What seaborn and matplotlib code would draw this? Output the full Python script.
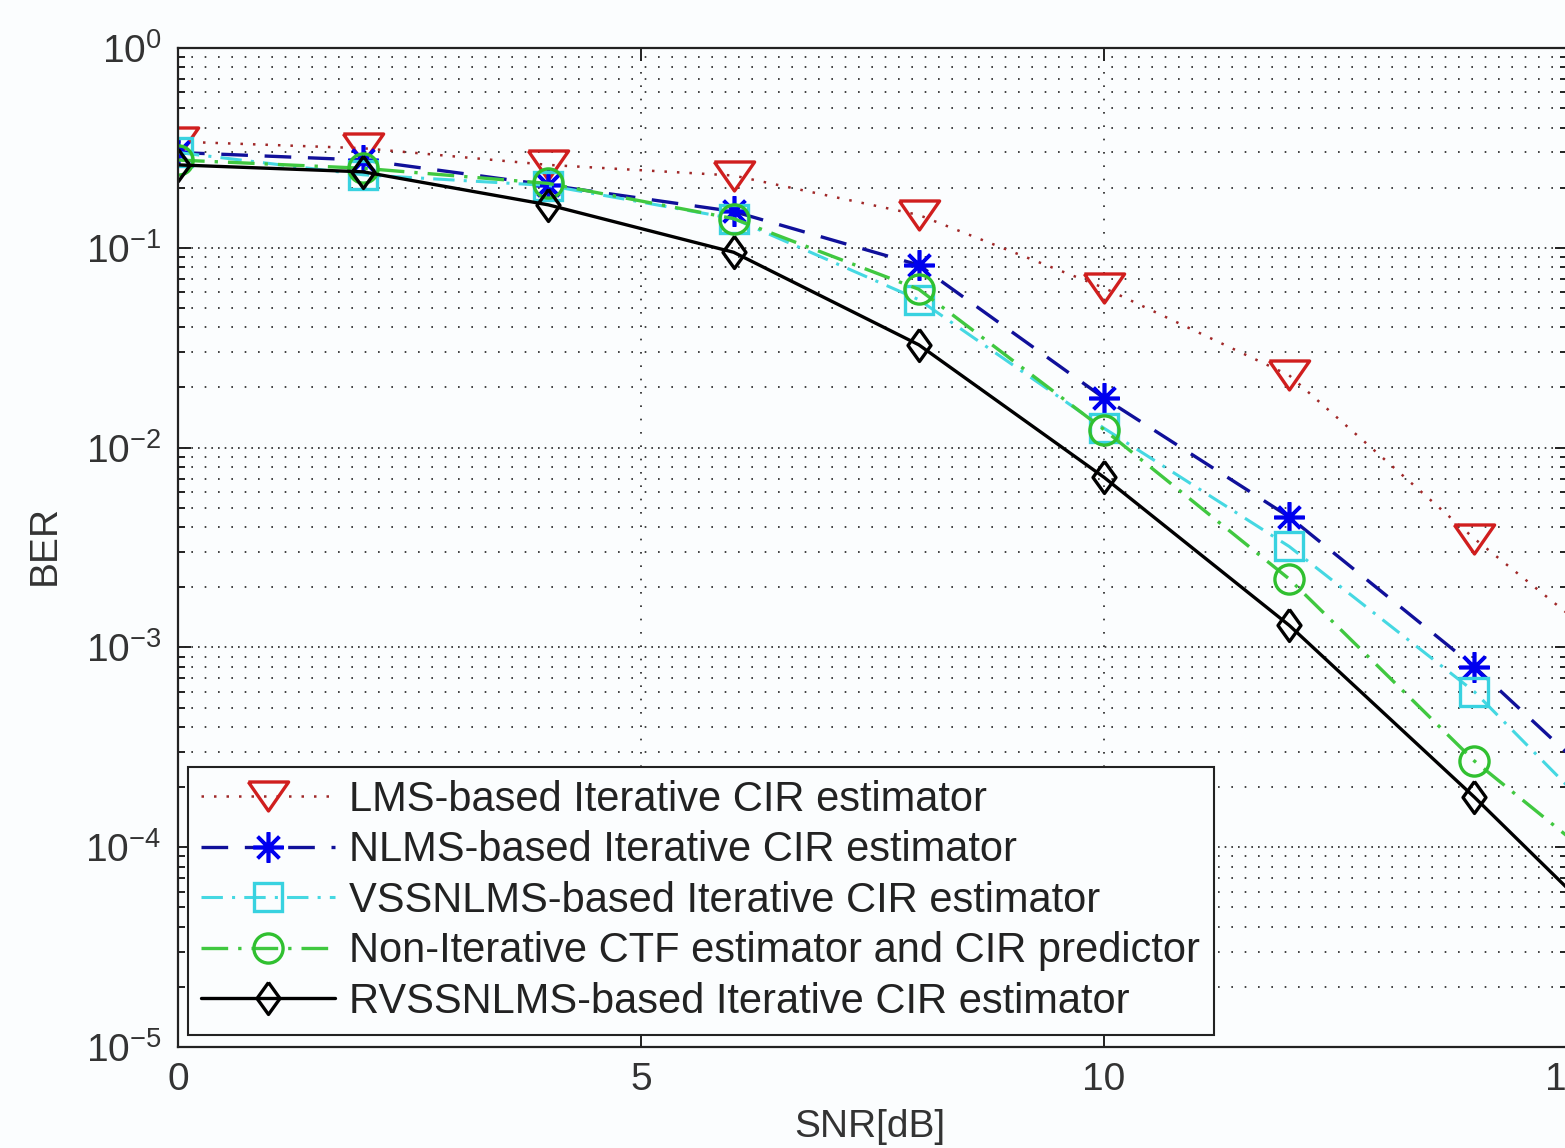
import numpy as np
import matplotlib
matplotlib.use("Agg")
import matplotlib.pyplot as plt
import matplotlib.ticker as mticker
import seaborn as sns

# data (BER vs SNR)
snr = [0, 2, 4, 6, 8, 10, 12, 14, 16]
ber_lms = [0.34, 0.315, 0.26, 0.23, 0.146, 0.063, 0.023, 0.0035, 6.3e-4]
ber_nlms = [0.30, 0.275, 0.206, 0.152, 0.082, 0.0177, 0.0045, 8.0e-4, 1.1e-4]
ber_vss = [0.30, 0.232, 0.205, 0.14, 0.055, 0.0125, 0.0032, 6.0e-4, 6.9e-5]
ber_noniter = [0.275, 0.25, 0.21, 0.14, 0.062, 0.0123, 0.0022, 2.7e-4, 4.8e-5]
ber_rvss = [0.26, 0.24, 0.164, 0.095, 0.0327, 0.0071, 0.00129, 1.78e-4, 2.2e-5]

labels = ["LMS-based Iterative CIR estimator",
          "NLMS-based Iterative CIR estimator",
          "VSSNLMS-based Iterative CIR estimator",
          "Non-Iterative CTF estimator and CIR predictor",
          "RVSSNLMS-based Iterative CIR estimator"]
x_ticks = [0, 5, 10, 15]

sns.set_theme(style="ticks")
plt.rcParams['font.family'] = ['Liberation Sans', 'DejaVu Sans']
plt.rcParams['mathtext.fontset'] = 'custom'
plt.rcParams['mathtext.rm'] = 'Liberation Sans'
plt.rcParams['mathtext.default'] = 'regular'
plt.rcParams['axes.unicode_minus'] = False

bg = '#fbfdfe'
fig = plt.figure(figsize=(15.65, 11.48), dpi=100, facecolor=bg)
ax = fig.add_axes([178/1565, 101/1148, 1389/1565, 999/1148], facecolor=bg)

# marker shapes like MATLAB's
tri = [(-1, 0.72), (1, 0.72), (0, -0.72), (-1, 0.72)]
dia = [(0, 1), (0.72, 0), (0, -1), (-0.72, 0), (0, 1)]

sns.lineplot(x=snr, y=ber_lms, ax=ax, label=labels[0], color='#a02828',
             linestyle=(0, (1, 4)), linewidth=1.8, marker=tri, markersize=29,
             markerfacecolor='none', markeredgecolor='#d01e1e', markeredgewidth=2.4)
sns.lineplot(x=snr, y=ber_nlms, ax=ax, label=labels[1], color='#10109a',
             linestyle=(0, (8, 5)), linewidth=2.4, marker=(8, 2, 0), markersize=22,
             markerfacecolor='none', markeredgecolor='#0000ee', markeredgewidth=2.6)
sns.lineplot(x=snr, y=ber_vss, ax=ax, label=labels[2], color='#45d8e2',
             linestyle=(0, (7, 3, 1, 3)), linewidth=2.2, marker='s', markersize=20,
             markerfacecolor='none', markeredgecolor='#38d2e0', markeredgewidth=2.4)
sns.lineplot(x=snr, y=ber_noniter, ax=ax, label=labels[3], color='#40c840',
             linestyle=(0, (8, 3, 1, 3)), linewidth=2.4, marker='o', markersize=21,
             markerfacecolor='none', markeredgecolor='#30c030', markeredgewidth=2.4)
sns.lineplot(x=snr, y=ber_rvss, ax=ax, label=labels[4], color='black',
             linestyle='-', linewidth=2.4, marker=dia, markersize=23,
             markerfacecolor='none', markeredgecolor='black', markeredgewidth=2.4)

ax.set_yscale('log')
ax.set_ylim(1e-5, 1)
ax.set_xlim(0, 15)
ax.set_xticks(x_ticks)
ax.yaxis.set_major_locator(mticker.LogLocator(base=10, numticks=10))
ax.yaxis.set_minor_locator(mticker.LogLocator(base=10, subs=np.arange(2, 10), numticks=20))
ax.yaxis.set_minor_formatter(mticker.NullFormatter())
ax.yaxis.set_major_formatter(mticker.LogFormatterMathtext())

ax.set_axisbelow(True)
ax.xaxis.grid(True, which='major', linestyle=(0, (1, 7)), color='#222222', linewidth=1.2)
ax.yaxis.grid(True, which='major', linestyle=(0, (1, 3)), color='#222222', linewidth=1.2)
ax.yaxis.grid(True, which='minor', linestyle=(0, (1, 7)), color='#222222', linewidth=1.2)

ax.tick_params(which='both', direction='in', top=True, right=True, colors='#222222',
               labelcolor='#333333', labelsize=28, width=1.4)
ax.tick_params(which='major', length=9)
ax.tick_params(which='minor', length=5)
ax.tick_params(axis='x', pad=11)
ax.tick_params(axis='y', pad=12)
for s in ax.spines.values():
    s.set_linewidth(1.6)
    s.set_color('#222222')

ax.set_xlabel('SNR[dB]', fontsize=28, color='#333333')
ax.set_ylabel('BER', fontsize=28, color='#333333')
ax.xaxis.set_label_coords(0.498, -0.062)
ax.yaxis.set_label_coords(-0.083, 0.503)

leg = ax.legend(loc='lower left', bbox_to_anchor=(0.0072, 0.012), borderaxespad=0,
                fancybox=False, edgecolor='#222222', framealpha=1, facecolor=bg,
                handlelength=3.2, handletextpad=0.35, labelspacing=0.25,
                borderpad=0.32, numpoints=1, fontsize=30)
leg.get_frame().set_linewidth(1.5)
for t in leg.get_texts():
    t.set_color('#222222')

fig.savefig('out.png', dpi=100, facecolor=bg)
